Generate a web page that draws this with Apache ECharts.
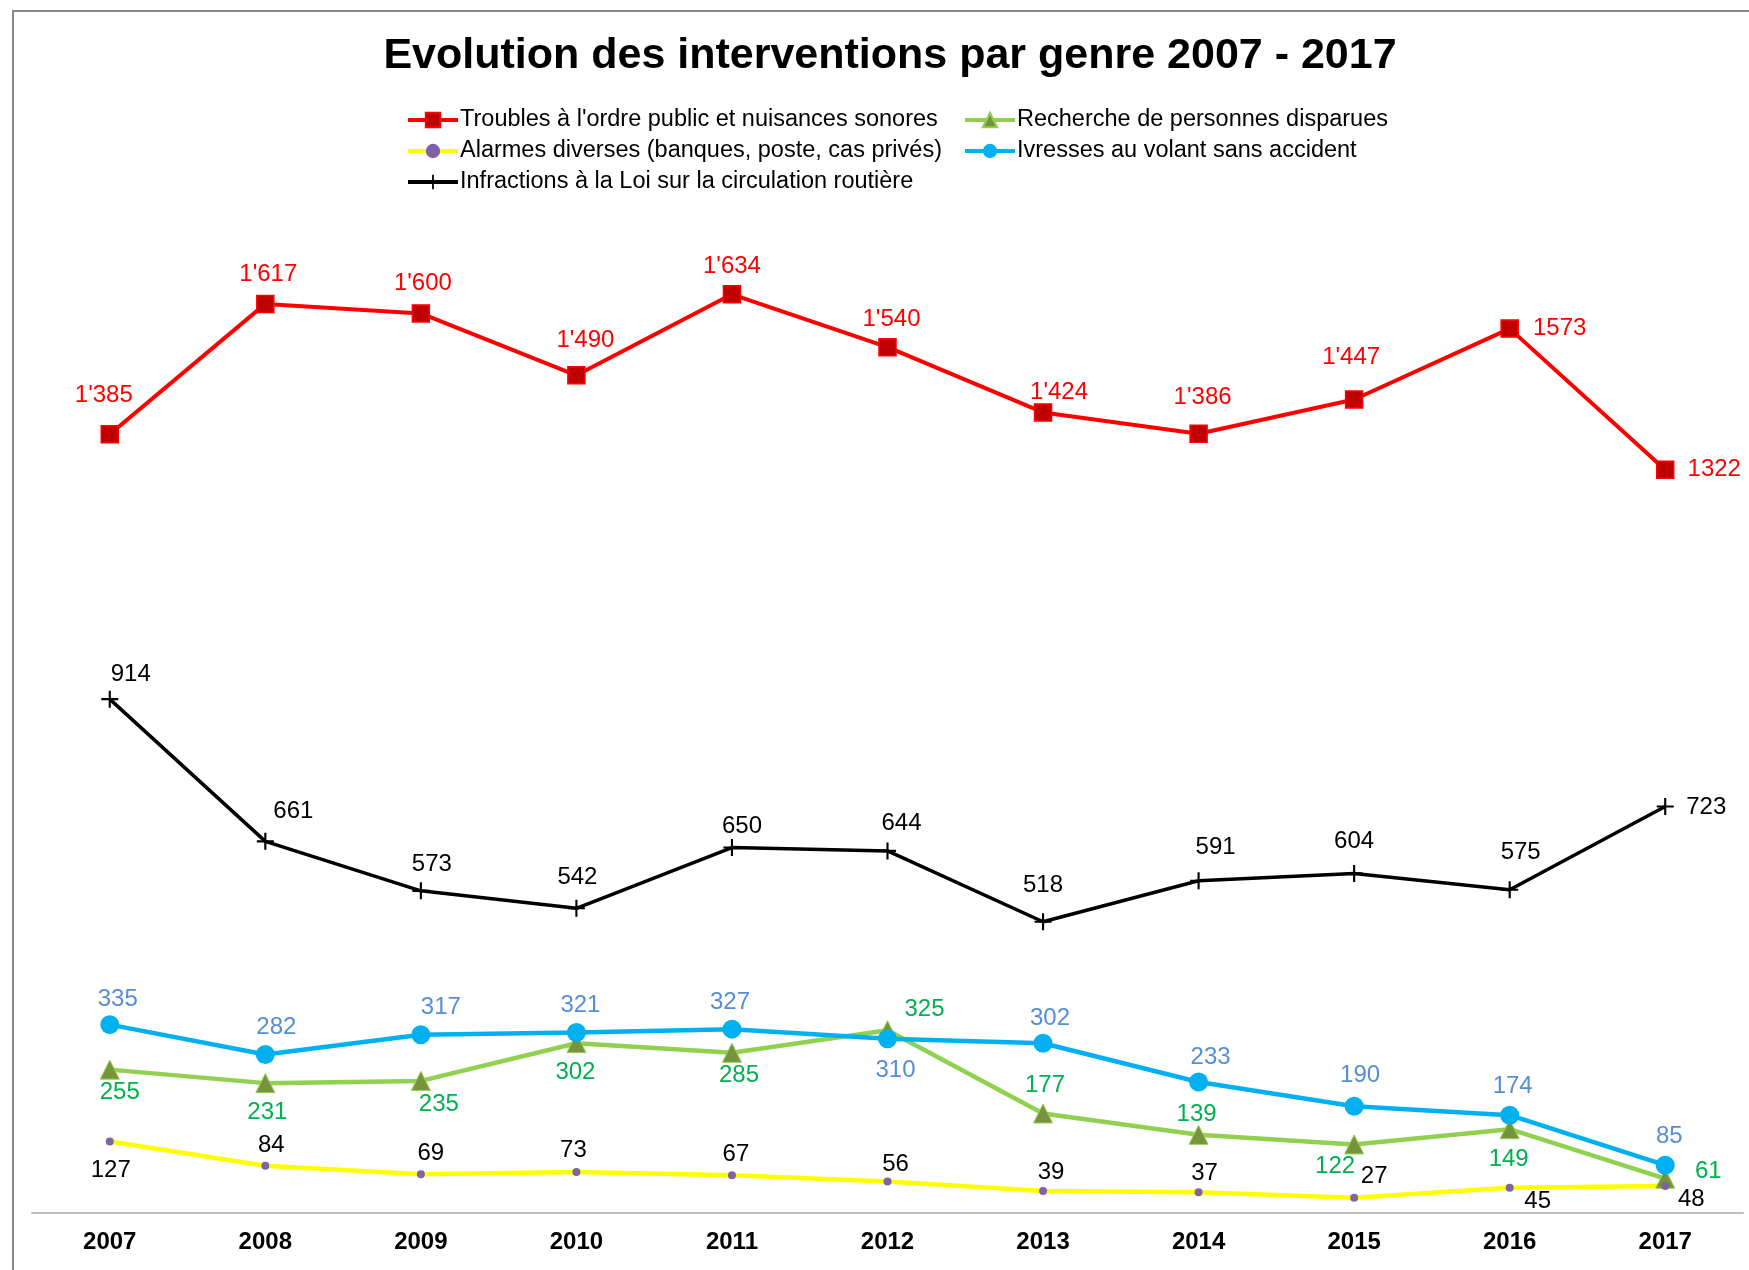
<!DOCTYPE html>
<html>
<head>
<meta charset="utf-8">
<title>Evolution des interventions par genre 2007 - 2017</title>
<script src="https://cdn.jsdelivr.net/npm/echarts@6/dist/echarts.min.js"></script>
<style>
  html, body { margin: 0; padding: 0; background: #fff; }
  #main { width: 1749px; height: 1270px; }
</style>
</head>
<body>
<div id="main"></div>
<script>
// annees
var years = ['2007', '2008', '2009', '2010', '2011', '2012', '2013', '2014', '2015', '2016', '2017'];

// valeurs par genre
var troubles = [1385, 1617, 1600, 1490, 1634, 1540, 1424, 1386, 1447, 1573, 1322];
var troublesText = ["1'385", "1'617", "1'600", "1'490", "1'634", "1'540", "1'424", "1'386", "1'447", "1573", "1322"];
var recherche = [255, 231, 235, 302, 285, 325, 177, 139, 122, 149, 61];
var alarmes = [127, 84, 69, 73, 67, 56, 39, 37, 27, 45, 48];
var ivresses = [335, 282, 317, 321, 327, 310, 302, 233, 190, 174, 85];
var infractions = [914, 661, 573, 542, 650, 644, 518, 591, 604, 575, 723];

// decalage des etiquettes (px) autour des points, comme dans excel
var offTroubles = [[-6,-39],[3,-30],[2,-30],[9,-35],[0,-28],[4,-28],[16,-20],[4,-36],[-3,-42],[50,0],[49,0]];
var offRecherche = [[10,23],[2,29],[18,23],[-1,29],[7,23],[37,-21],[2,-28],[-2,-20],[-19,22],[-1,30],[43,-7]];
var offAlarmes = [[1,29],[6,-20],[10,-21],[-3,-22],[4,-21],[8,-17],[8,-19],[6,-19],[20,-21],[28,14],[26,13]];
var offIvresses = [[8,-25],[11,-27],[20,-27],[4,-27],[-2,-27],[8,32],[7,-25],[12,-25],[6,-31],[3,-29],[4,-29]];
var offInfractions = [[21,-25],[28,-30],[11,-26],[1,-31],[10,-21],[14,-28],[0,-36],[17,-33],[0,-32],[11,-37],[41,1]];

var FONT = "'Liberation Sans', Arial, sans-serif";

function withLabels(values, offsets, color, texts) {
    return values.map(function (v, i) {
        return {
            value: v,
            label: {
                show: true,
                position: 'inside',
                offset: offsets[i],
                color: color,
                fontSize: 24,
                fontFamily: FONT,
                formatter: texts ? texts[i] : String(v)
            }
        };
    });
}

var plus = 'path://M7,0 L9,0 L9,7 L16,7 L16,9 L9,9 L9,16 L7,16 L7,9 L0,9 L0,7 L7,7 Z';

var legendText = { fontFamily: FONT, fontSize: 23.5, color: '#000', lineHeight: 24, padding: [0, 0, 0, -3] };

var myChart = echarts.init(document.getElementById('main'));
myChart.setOption({
    animation: false,
    backgroundColor: '#fff',
    title: {
        text: 'Evolution des interventions par genre 2007 - 2017',
        left: 885,
        top: 30,
        textAlign: 'center',
        textStyle: { fontFamily: FONT, fontSize: 43, fontWeight: 'bold', color: '#000' }
    },
    graphic: [{
        type: 'rect',
        shape: { x: 13, y: 11, width: 1800, height: 1300 },
        style: { fill: 'none', stroke: '#868686', lineWidth: 2 },
        silent: true
    }],
    legend: [{
        orient: 'vertical',
        left: 401,
        top: 103,
        itemWidth: 50,
        itemHeight: 18,
        itemGap: 7,
        lineStyle: { width: 4 },
        textStyle: legendText,
        data: ['Troubles à l\'ordre public et nuisances sonores', 'Alarmes diverses (banques, poste, cas privés)', 'Infractions à la Loi sur la circulation routière']
    }, {
        orient: 'vertical',
        left: 958,
        top: 103,
        itemWidth: 50,
        itemHeight: 18,
        itemGap: 7,
        lineStyle: { width: 4 },
        textStyle: legendText,
        data: ['Recherche de personnes disparues', 'Ivresses au volant sans accident']
    }],
    grid: { left: 32, right: 6, top: 201, bottom: 57 },
    xAxis: {
        type: 'category',
        data: years,
        boundaryGap: true,
        axisLine: { lineStyle: { color: '#BFBFBF', width: 2 } },
        axisTick: { show: false },
        axisLabel: { fontFamily: FONT, fontSize: 24, fontWeight: 'bold', color: '#000', margin: 17 }
    },
    yAxis: {
        type: 'value',
        min: 0,
        max: 1800,
        show: false,
        splitLine: { show: false }
    },
    series: [{
        name: 'Troubles à l\'ordre public et nuisances sonores',
        type: 'line',
        data: withLabels(troubles, offTroubles, '#FF0000', troublesText),
        lineStyle: { color: '#FF0000', width: 4 },
        symbol: 'rect',
        symbolSize: 17,
        itemStyle: { color: '#C00000', borderColor: '#FF0000', borderWidth: 1.5 }
    }, {
        name: 'Recherche de personnes disparues',
        type: 'line',
        data: withLabels(recherche, offRecherche, '#00B050'),
        lineStyle: { color: '#92D050', width: 4.5 },
        symbol: 'triangle',
        symbolSize: 19,
        itemStyle: { color: '#77933C', borderColor: '#92D050', borderWidth: 1 }
    }, {
        name: 'Alarmes diverses (banques, poste, cas privés)',
        type: 'line',
        data: withLabels(alarmes, offAlarmes, '#000000'),
        lineStyle: { color: '#FFFF00', width: 4.5 },
        symbol: 'circle',
        symbolSize: 8,
        itemStyle: { color: '#7E64A0' }
    }, {
        name: 'Ivresses au volant sans accident',
        type: 'line',
        data: withLabels(ivresses, offIvresses, '#558ED5'),
        lineStyle: { color: '#00B0F0', width: 4.5 },
        symbol: 'circle',
        symbolSize: 19,
        itemStyle: { color: '#00B0F0' }
    }, {
        name: 'Infractions à la Loi sur la circulation routière',
        type: 'line',
        data: withLabels(infractions, offInfractions, '#000000'),
        lineStyle: { color: '#000000', width: 3.5 },
        symbol: plus,
        symbolSize: 17,
        itemStyle: { color: '#000000' }
    }]
});
</script>
</body>
</html>
